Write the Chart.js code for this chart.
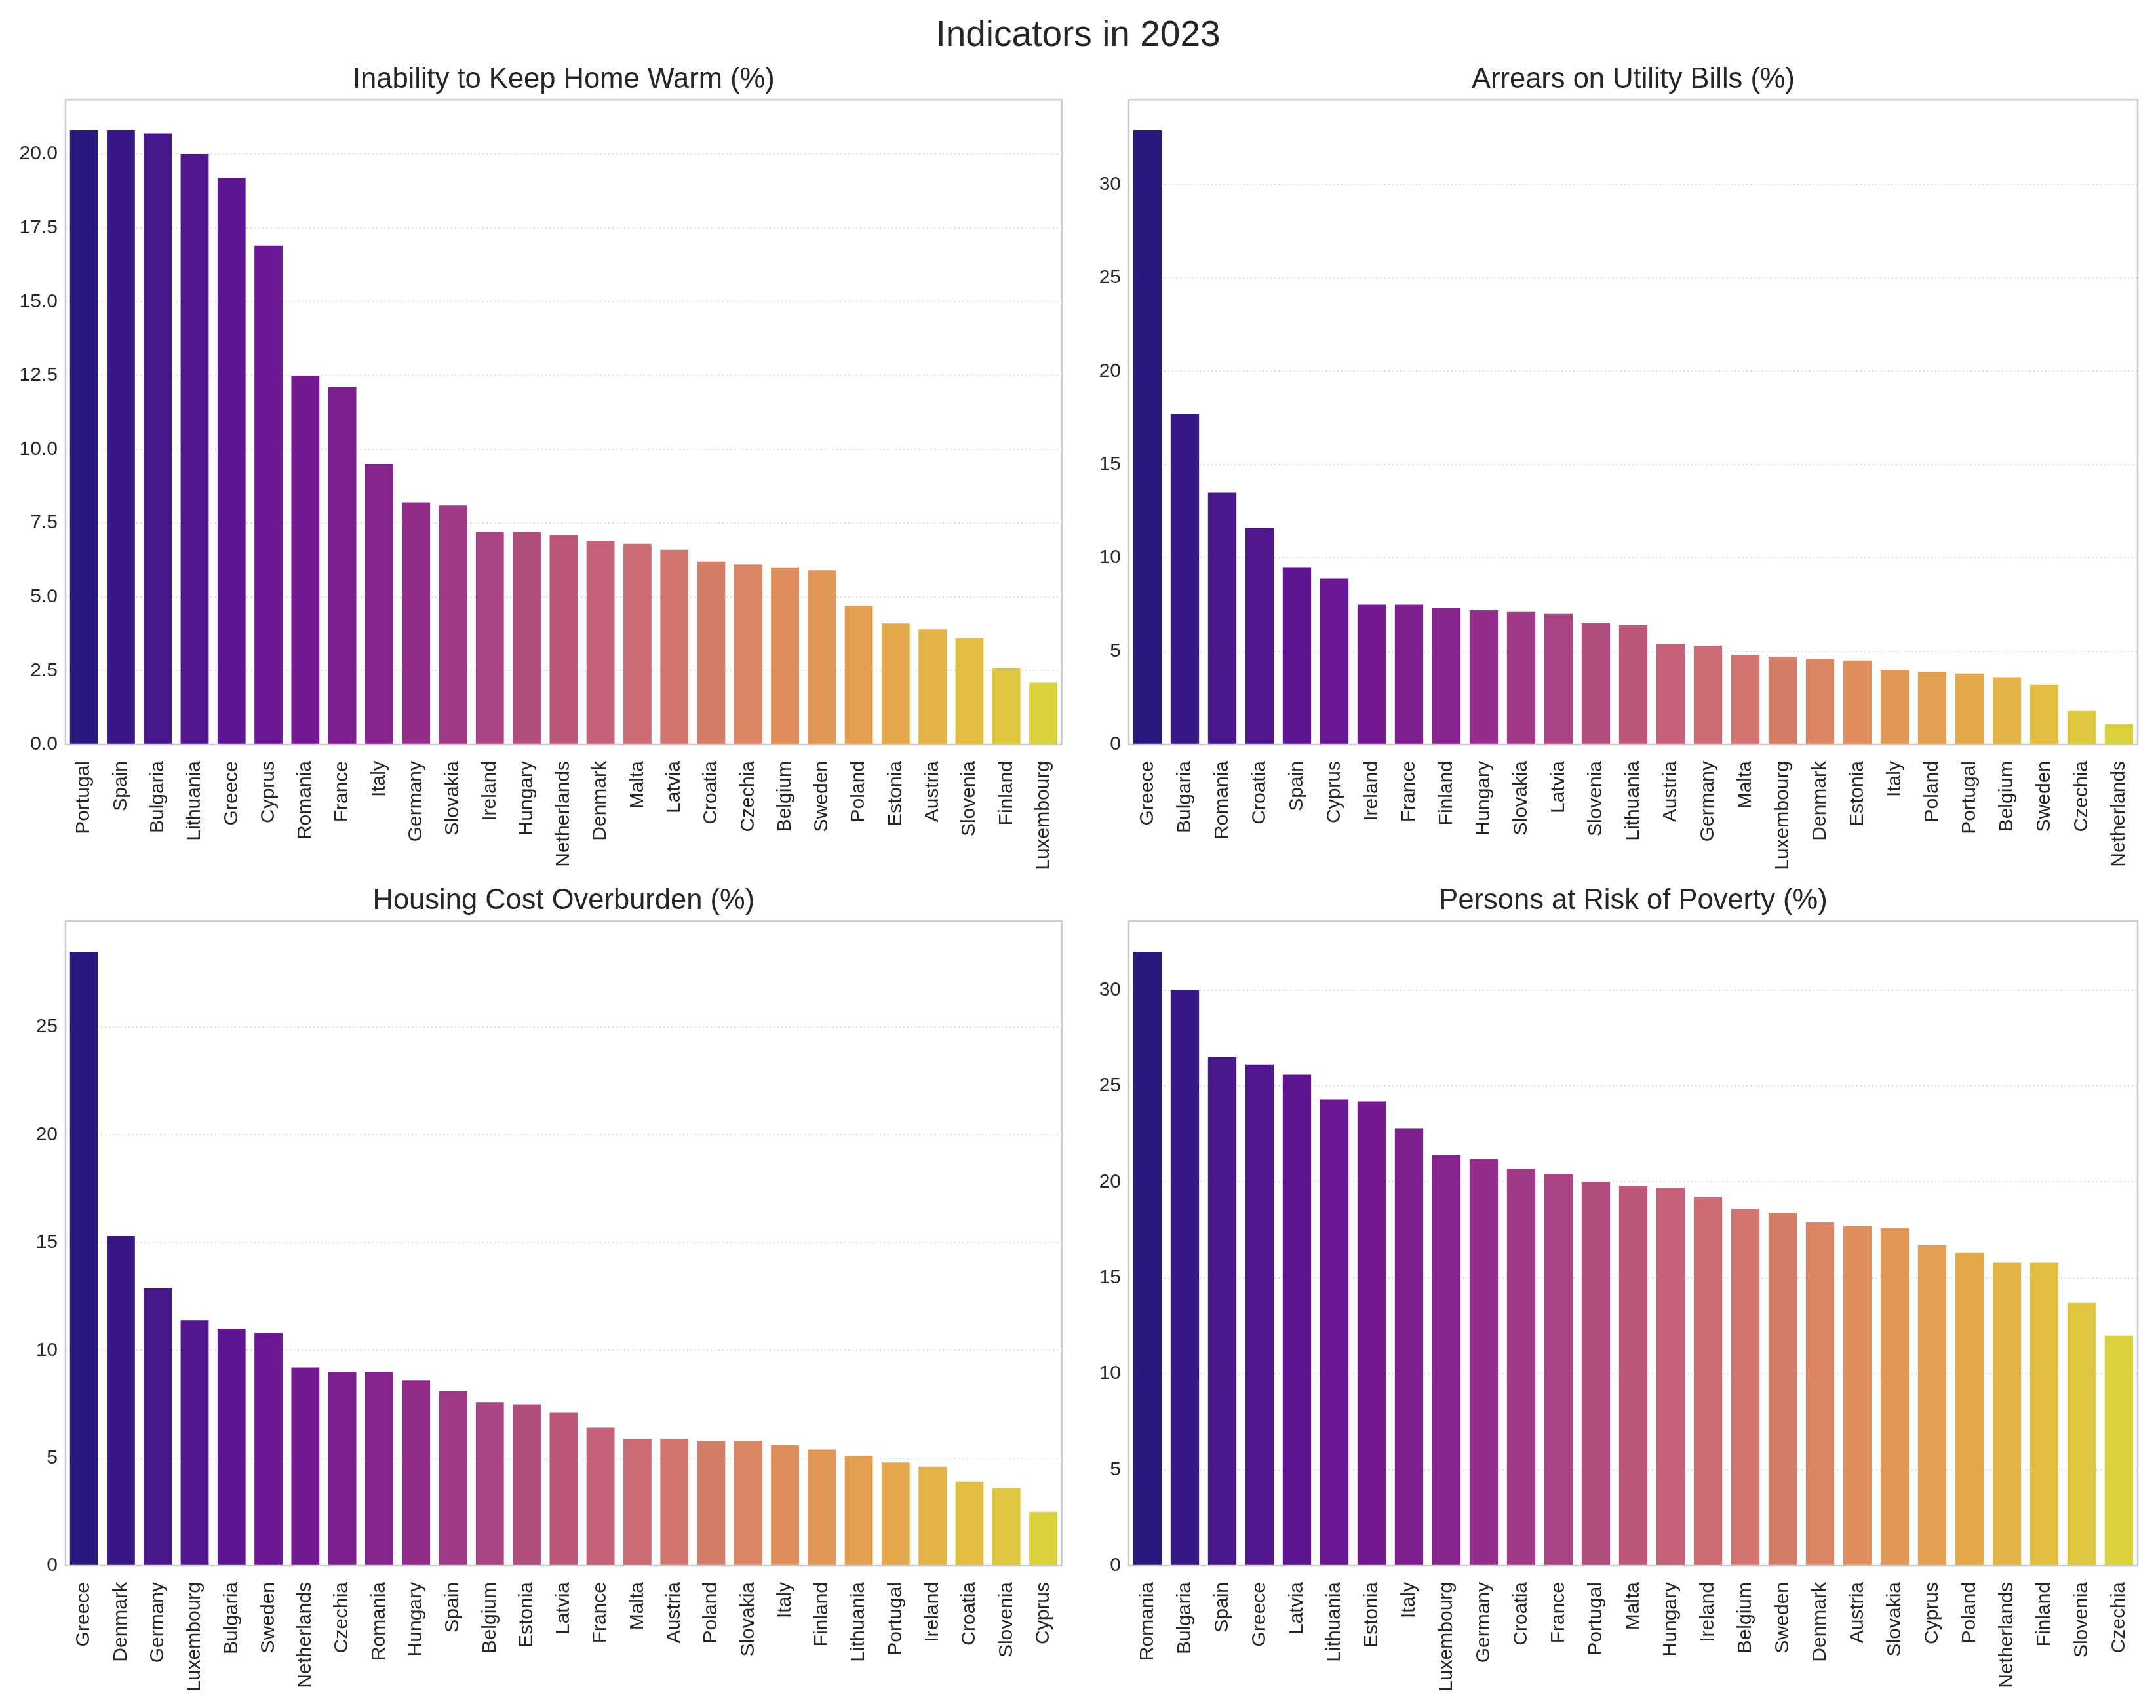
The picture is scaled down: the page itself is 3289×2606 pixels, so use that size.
<!DOCTYPE html>
<html>
<head>
<meta charset="utf-8">
<title>Indicators in 2023</title>
<script src="https://cdn.jsdelivr.net/npm/chart.js@4.4.1/dist/chart.umd.min.js"></script>
<style>
  html, body { margin: 0; padding: 0; background: #fff; }
  #page { position: relative; width: 3289px; height: 2606px; background: #fff; overflow: hidden; }
  #suptitle {
    position: absolute; left: 0; top: 19px; width: 3289px; text-align: center;
    font: 55px 'Liberation Sans', Arial, sans-serif; line-height: 64px; color: #262626;
  }
  .panel { position: absolute; }
</style>
</head>
<body>
<div id="page">
  <div id="suptitle">Indicators in 2023</div>
  <div class="panel" style="left:0;top:96px;width:1645px;height:1244px"><canvas id="warm"></canvas></div>
  <div class="panel" style="left:1645px;top:96px;width:1644px;height:1244px"><canvas id="arrears"></canvas></div>
  <div class="panel" style="left:0;top:1349px;width:1645px;height:1257px"><canvas id="housing"></canvas></div>
  <div class="panel" style="left:1645px;top:1349px;width:1644px;height:1257px"><canvas id="poverty"></canvas></div>
</div>
<script>
// --- data ---
const warmCountries = ['Portugal', 'Spain', 'Bulgaria', 'Lithuania', 'Greece', 'Cyprus', 'Romania', 'France', 'Italy',
  'Germany', 'Slovakia', 'Ireland', 'Hungary', 'Netherlands', 'Denmark', 'Malta', 'Latvia', 'Croatia', 'Czechia',
  'Belgium', 'Sweden', 'Poland', 'Estonia', 'Austria', 'Slovenia', 'Finland', 'Luxembourg'];
const warmValues = [20.8, 20.8, 20.7, 20.0, 19.2, 16.9, 12.5, 12.1, 9.5, 8.2, 8.1, 7.2, 7.2, 7.1, 6.9, 6.8, 6.6, 6.2,
  6.1, 6.0, 5.9, 4.7, 4.1, 3.9, 3.6, 2.6, 2.1];
const warmTicks = [0, 2.5, 5, 7.5, 10, 12.5, 15, 17.5, 20];

const arrearsCountries = ['Greece', 'Bulgaria', 'Romania', 'Croatia', 'Spain', 'Cyprus', 'Ireland', 'France', 'Finland',
  'Hungary', 'Slovakia', 'Latvia', 'Slovenia', 'Lithuania', 'Austria', 'Germany', 'Malta', 'Luxembourg', 'Denmark',
  'Estonia', 'Italy', 'Poland', 'Portugal', 'Belgium', 'Sweden', 'Czechia', 'Netherlands'];
const arrearsValues = [32.9, 17.7, 13.5, 11.6, 9.5, 8.9, 7.5, 7.5, 7.3, 7.2, 7.1, 7.0, 6.5, 6.4, 5.4, 5.3, 4.8, 4.7,
  4.6, 4.5, 4.0, 3.9, 3.8, 3.6, 3.2, 1.8, 1.1];
const arrearsTicks = [0, 5, 10, 15, 20, 25, 30];

const housingCountries = ['Greece', 'Denmark', 'Germany', 'Luxembourg', 'Bulgaria', 'Sweden', 'Netherlands', 'Czechia',
  'Romania', 'Hungary', 'Spain', 'Belgium', 'Estonia', 'Latvia', 'France', 'Malta', 'Austria', 'Poland', 'Slovakia',
  'Italy', 'Finland', 'Lithuania', 'Portugal', 'Ireland', 'Croatia', 'Slovenia', 'Cyprus'];
const housingValues = [28.5, 15.3, 12.9, 11.4, 11.0, 10.8, 9.2, 9.0, 9.0, 8.6, 8.1, 7.6, 7.5, 7.1, 6.4, 5.9, 5.9, 5.8,
  5.8, 5.6, 5.4, 5.1, 4.8, 4.6, 3.9, 3.6, 2.5];
const housingTicks = [0, 5, 10, 15, 20, 25];

const povertyCountries = ['Romania', 'Bulgaria', 'Spain', 'Greece', 'Latvia', 'Lithuania', 'Estonia', 'Italy',
  'Luxembourg', 'Germany', 'Croatia', 'France', 'Portugal', 'Malta', 'Hungary', 'Ireland', 'Belgium', 'Sweden',
  'Denmark', 'Austria', 'Slovakia', 'Cyprus', 'Poland', 'Netherlands', 'Finland', 'Slovenia', 'Czechia'];
const povertyValues = [32.0, 30.0, 26.5, 26.1, 25.6, 24.3, 24.2, 22.8, 21.4, 21.2, 20.7, 20.4, 20.0, 19.8, 19.7, 19.2,
  18.6, 18.4, 17.9, 17.7, 17.6, 16.7, 16.3, 15.8, 15.8, 13.7, 12.0];
const povertyTicks = [0, 5, 10, 15, 20, 25, 30];

// --- colours: plasma palette, desaturated like seaborn bars ---
const PLASMA = ['#0d0887', '#41049d', '#6a00a8', '#8f0da4', '#b12a90', '#cc4778',
  '#e16462', '#f2844b', '#fca636', '#fcce25', '#f0f921'];

function hexRgb(h) {
  return [parseInt(h.slice(1, 3), 16), parseInt(h.slice(3, 5), 16), parseInt(h.slice(5, 7), 16)];
}

function plasma(t) {
  const pos = t * (PLASMA.length - 1);
  const i = Math.min(Math.floor(pos), PLASMA.length - 2);
  const f = pos - i;
  const a = hexRgb(PLASMA[i]), b = hexRgb(PLASMA[i + 1]);
  return a.map((v, k) => (v + (b[k] - v) * f) / 255);
}

function desaturate(rgb, prop) {
  const [r, g, b] = rgb;
  const mx = Math.max(r, g, b), mn = Math.min(r, g, b);
  const l = (mx + mn) / 2;
  if (mx === mn) return rgb;
  const d = mx - mn;
  let s = l > 0.5 ? d / (2 - mx - mn) : d / (mx + mn);
  let h;
  if (mx === r) h = ((g - b) / d) % 6;
  else if (mx === g) h = (b - r) / d + 2;
  else h = (r - g) / d + 4;
  h = (h * 60 + 360) % 360;
  s *= prop;
  const c = (1 - Math.abs(2 * l - 1)) * s;
  const x = c * (1 - Math.abs((h / 60) % 2 - 1));
  const m = l - c / 2;
  let out;
  if (h < 60) out = [c, x, 0];
  else if (h < 120) out = [x, c, 0];
  else if (h < 180) out = [0, c, x];
  else if (h < 240) out = [0, x, c];
  else if (h < 300) out = [x, 0, c];
  else out = [c, 0, x];
  return out.map(v => v + m);
}

function palette(n) {
  const cols = [];
  for (let i = 0; i < n; i++) {
    const rgb = desaturate(plasma((i + 1) / (n + 1)), 0.75);
    cols.push('rgb(' + rgb.map(v => Math.round(v * 255)).join(',') + ')');
  }
  return cols;
}

// light grey box round each plot area
const framePlugin = {
  id: 'frame',
  afterDatasetsDraw(chart) {
    const { ctx, chartArea: a } = chart;
    ctx.save();
    ctx.strokeStyle = '#cccccc';
    ctx.lineWidth = 2.5;
    ctx.strokeRect(a.left, a.top, a.right - a.left, a.bottom - a.top);
    ctx.restore();
  }
};

const FONT = "'Liberation Sans', Arial, sans-serif";
const TEXT = '#262626';

function makeChart(id, title, labels, values, ticks, decimals, yWidth, padRight, xHeight) {
  new Chart(document.getElementById(id), {
    type: 'bar',
    data: {
      labels: labels,
      datasets: [{
        data: values,
        backgroundColor: palette(values.length),
        borderWidth: 0,
        barPercentage: 0.76,
        categoryPercentage: 1.0
      }]
    },
    options: {
      responsive: true,
      maintainAspectRatio: false,
      animation: false,
      layout: { padding: { left: 0, right: padRight, top: 0, bottom: 0 } },
      plugins: {
        legend: { display: false },
        tooltip: { enabled: false },
        title: {
          display: true,
          fullSize: false,
          text: title,
          color: TEXT,
          font: { family: FONT, size: 43.5, weight: 'normal', lineHeight: 1.2 },
          padding: { top: 0, bottom: 4 }
        }
      },
      scales: {
        x: {
          grid: { display: false },
          border: { display: false },
          ticks: {
            autoSkip: false,
            minRotation: 90,
            maxRotation: 90,
            padding: 17,
            color: TEXT,
            font: { family: FONT, size: 30 }
          },
          afterFit: function(scale) { scale.height = xHeight; }
        },
        y: {
          min: 0,
          max: Math.max(...values) * 1.05,
          grid: { color: '#dddddd', lineWidth: 2, drawTicks: false },
          border: { display: false, dash: [2, 4] },
          ticks: {
            padding: 12,
            color: TEXT,
            font: { family: FONT, size: 30 },
            callback: function(value) { return value.toFixed(decimals); }
          },
          afterBuildTicks: function(scale) { scale.ticks = ticks.map(v => ({ value: v })); },
          afterFit: function(scale) { scale.width = yWidth; }
        }
      }
    },
    plugins: [framePlugin]
  });
}

makeChart('warm', 'Inability to Keep Home Warm (%)', warmCountries, warmValues, warmTicks, 1, 100, 8, 204);
makeChart('arrears', 'Arrears on Utility Bills (%)', arrearsCountries, arrearsValues, arrearsTicks, 0, 77, 28, 204);
makeChart('housing', 'Housing Cost Overburden (%)', housingCountries, housingValues, housingTicks, 0, 100, 8, 217);
makeChart('poverty', 'Persons at Risk of Poverty (%)', povertyCountries, povertyValues, povertyTicks, 0, 77, 28, 217);
</script>
</body>
</html>
